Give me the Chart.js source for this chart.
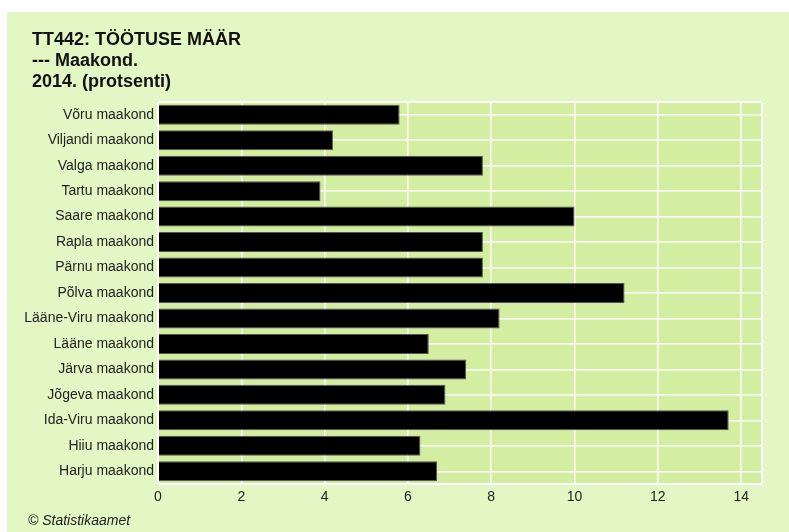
<!DOCTYPE html>
<html>
<head>
<meta charset="utf-8">
<script src="https://cdn.jsdelivr.net/npm/chart.js@4/dist/chart.umd.min.js"></script>
<style>
  html, body { margin: 0; padding: 0; background: #ffffff; }
  #panel { position: absolute; left: 7px; top: 12px; width: 782px; height: 520px; background: #E2F7C4; }
  canvas { display: block; }
</style>
</head>
<body>
<div id="panel"><canvas id="c" width="782" height="520"></canvas></div>
<script>
const titleLines = ["TT442: TÖÖTUSE MÄÄR", "--- Maakond.", "2014. (protsenti)"];
const footerText = "© Statistikaamet";
const categories = ["Võru maakond", "Viljandi maakond", "Valga maakond", "Tartu maakond", "Saare maakond",
  "Rapla maakond", "Pärnu maakond", "Põlva maakond", "Lääne-Viru maakond", "Lääne maakond",
  "Järva maakond", "Jõgeva maakond", "Ida-Viru maakond", "Hiiu maakond", "Harju maakond"];
const values = [5.8, 4.2, 7.8, 3.9, 10.0, 7.8, 7.8, 11.2, 8.2, 6.5, 7.4, 6.9, 13.7, 6.3, 6.7];
const xTicks = [0, 2, 4, 6, 8, 10, 12, 14];
const xMin = 0, xMax = 14.5;

const FONT = "'Liberation Sans', Arial, sans-serif";

const decor = {
  id: 'decor',
  beforeDraw(chart) {
    const {ctx, chartArea: a} = chart;
    ctx.save();
    ctx.fillStyle = '#D3EDA1';
    ctx.fillRect(a.left, a.top, a.right - a.left, a.bottom - a.top);
    ctx.restore();
  },
  afterDraw(chart) {
    const {ctx, chartArea: a} = chart;
    ctx.save();
    ctx.strokeStyle = '#ffffff';
    ctx.lineWidth = 2;
    ctx.strokeRect(a.left, a.top, a.right - a.left, a.bottom - a.top);
    ctx.fillStyle = '#111111';
    ctx.textAlign = 'left';
    ctx.textBaseline = 'middle';
    ctx.font = "bold 18px " + FONT;
    titleLines.forEach((t, i) => ctx.fillText(t, 25, 28 + i * 21));
    ctx.font = "italic 14px " + FONT;
    ctx.fillStyle = '#222222';
    ctx.fillText(footerText, 21, 509);
    ctx.restore();
  }
};

new Chart(document.getElementById('c'), {
  type: 'bar',
  data: {
    labels: categories,
    datasets: [{
      data: values,
      backgroundColor: '#000000',
      borderColor: '#555555',
      borderWidth: 1,
      barPercentage: 0.785,
      categoryPercentage: 1.0
    }]
  },
  options: {
    indexAxis: 'y',
    responsive: false,
    animation: false,
    layout: { padding: { left: 0, top: 90, right: 27, bottom: 20 } },
    plugins: { legend: { display: false }, tooltip: { enabled: false }, title: { display: false } },
    scales: {
      x: {
        min: xMin, max: xMax,
        afterBuildTicks(s) { s.ticks = xTicks.map(v => ({ value: v })); },
        ticks: {
          color: '#222222',
          font: { family: FONT, size: 14 },
          padding: 5
        },
        grid: { color: '#ffffff', lineWidth: 1.5, drawTicks: false },
        border: { display: false },
        afterFit(s) { s.height = 28; }
      },
      y: {
        ticks: {
          color: '#222222',
          font: { family: FONT, size: 14 },
          padding: 4,
          autoSkip: false
        },
        grid: { color: '#ffffff', lineWidth: 1.5, offset: false, drawTicks: false },
        border: { display: false },
        afterFit(s) { s.width = 151; }
      }
    }
  },
  plugins: [decor]
});
</script>
</body>
</html>
